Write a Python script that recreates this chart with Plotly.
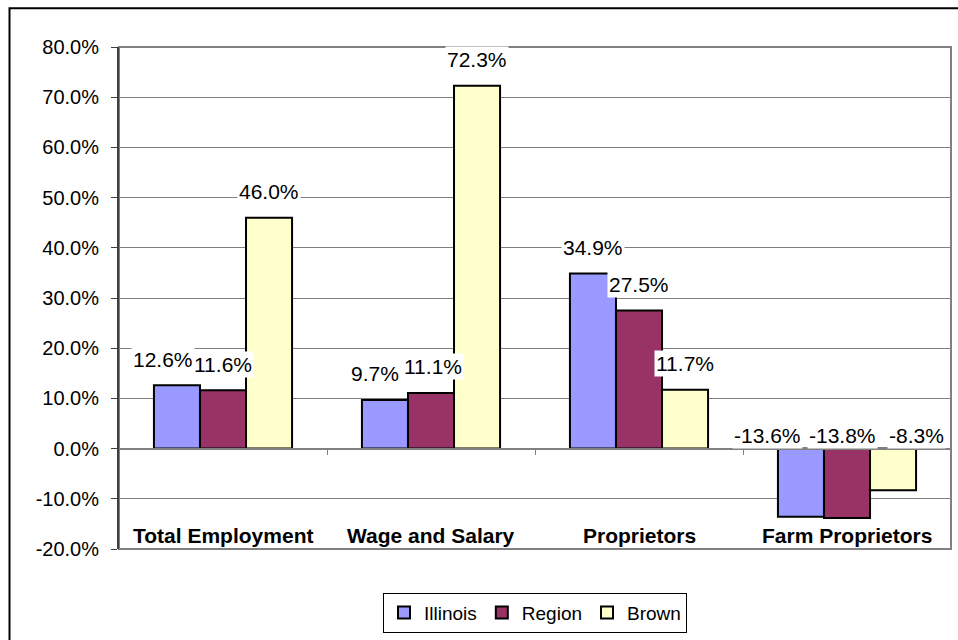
import plotly.graph_objects as go

# Employment change by category
categories = ["Total Employment", "Wage and Salary", "Proprietors", "Farm Proprietors"]
series_names = ["Illinois", "Region", "Brown"]
illinois = [12.6, 9.7, 34.9, -13.6]
region = [11.6, 11.1, 27.5, -13.8]
brown = [46.0, 72.3, 11.7, -8.3]
y_ticks = [-20, -10, 0, 10, 20, 30, 40, 50, 60, 70, 80]

series_values = [illinois, region, brown]
colors = ["#9999FF", "#993366", "#FFFFCC"]

FONT = "Liberation Sans, Arial, sans-serif"
BARGAP = 0.336

fig = go.Figure()
for name, vals, col in zip(series_names, series_values, colors):
    fig.add_trace(go.Bar(
        x=categories, y=vals, name=name,
        marker=dict(color=col, line=dict(color="black", width=2)),
    ))

# value labels on white boxes, centred over each bar (a few nudged sideways)
bar_w = (1 - BARGAP) / len(series_names)
label_xshift = {(0, 0): -14, (1, 0): -10, (1, 1): 2,
                (3, 0): -33, (3, 1): -5, (3, 2): 23}
for s, vals in enumerate(series_values):
    for c, v in enumerate(vals):
        xpos = c + (s - (len(series_names) - 1) / 2) * bar_w
        fig.add_annotation(
            x=xpos, y=max(v, 0), xref="x", yref="y",
            text=f"{v:.1f}%", showarrow=False,
            yshift=26 if v >= 0 else 13,
            xshift=label_xshift.get((c, s), 0),
            bgcolor="white", borderpad=1,
            font=dict(family=FONT, size=21, color="black"),
        )

# category names sit inside the plot, near the bottom
for c, cat in enumerate(categories):
    fig.add_annotation(
        x=c, y=0.026, xref="x", yref="paper", text=f"<b>{cat}</b>",
        showarrow=False, yanchor="middle",
        font=dict(family=FONT, size=21, color="black"),
    )

# plot-area frame and outer chart border
fig.add_shape(type="rect", xref="paper", yref="paper", x0=0, x1=1, y0=0, y1=1,
              line=dict(color="#808080", width=2), layer="below")
fig.add_shape(type="rect", xref="paper", yref="paper",
              x0=-0.1316, x1=1.2, y0=-0.3, y1=1.077,
              line=dict(color="black", width=2), layer="below")

fig.update_layout(
    width=958, height=640,
    margin=dict(l=119, r=7, t=47, b=87),
    paper_bgcolor="white", plot_bgcolor="white",
    barmode="group", bargap=BARGAP, bargroupgap=0,
    font=dict(family=FONT, size=20, color="black"),
    showlegend=True,
    legend=dict(
        orientation="h", x=0.5, xanchor="center", y=-0.087, yanchor="top",
        bordercolor="black", borderwidth=1, bgcolor="white",
        font=dict(family=FONT, size=19, color="black"),
        itemwidth=30, traceorder="normal",
    ),
    xaxis=dict(
        anchor="free", position=0.2,
        showline=True, linecolor="#808080", linewidth=2,
        ticks="outside", tickson="boundaries", ticklen=5, tickcolor="#808080",
        showticklabels=False, showgrid=False, zeroline=False,
    ),
    yaxis=dict(
        range=[-20, 80], tickvals=y_ticks,
        ticktext=[f"{t:.1f}%" for t in y_ticks],
        showline=True, linecolor="#404040", linewidth=2,
        ticks="outside", ticklen=6, tickcolor="#404040",
        ticklabelstandoff=8,
        showgrid=True, gridcolor="#808080", gridwidth=1,
        zeroline=False,
        tickfont=dict(family=FONT, size=20, color="black"),
    ),
)

fig.write_html("out.html")
